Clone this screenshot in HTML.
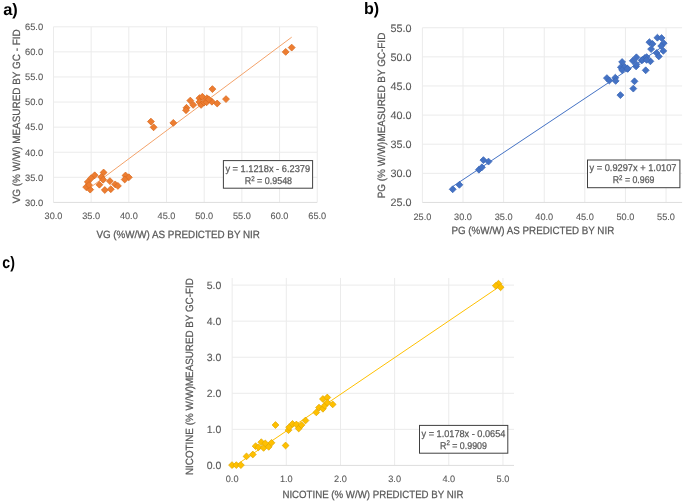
<!DOCTYPE html>
<html><head><meta charset="utf-8"><style>
html,body{margin:0;padding:0;background:#fff;}
svg{display:block;font-family:"Liberation Sans", sans-serif;will-change:transform;text-rendering:geometricPrecision;filter:blur(0.3px);}
</style></head><body>
<svg width="685" height="503" viewBox="0 0 685 503">
<rect width="685" height="503" fill="#fff"/>
<text x="3.2" y="14.6" font-size="16.5" font-weight="bold" fill="#000" textLength="14.6" lengthAdjust="spacingAndGlyphs">a)</text>
<text x="364.0" y="13.7" font-size="16.5" font-weight="bold" fill="#000" textLength="15.2" lengthAdjust="spacingAndGlyphs">b)</text>
<text x="2.3" y="268.3" font-size="16.5" font-weight="bold" fill="#000" textLength="12.6" lengthAdjust="spacingAndGlyphs">c)</text>
<line x1="53.47" y1="26.8" x2="53.47" y2="202.4" stroke="#ebebeb" stroke-width="1"/>
<line x1="91.15" y1="26.8" x2="91.15" y2="202.4" stroke="#ebebeb" stroke-width="1"/>
<line x1="128.83" y1="26.8" x2="128.83" y2="202.4" stroke="#ebebeb" stroke-width="1"/>
<line x1="166.51" y1="26.8" x2="166.51" y2="202.4" stroke="#ebebeb" stroke-width="1"/>
<line x1="204.19" y1="26.8" x2="204.19" y2="202.4" stroke="#ebebeb" stroke-width="1"/>
<line x1="241.87" y1="26.8" x2="241.87" y2="202.4" stroke="#ebebeb" stroke-width="1"/>
<line x1="279.55" y1="26.8" x2="279.55" y2="202.4" stroke="#ebebeb" stroke-width="1"/>
<line x1="317.23" y1="26.8" x2="317.23" y2="202.4" stroke="#ebebeb" stroke-width="1"/>
<line x1="53.47" y1="202.4" x2="317.2" y2="202.4" stroke="#dddddd" stroke-width="1"/>
<line x1="53.47" y1="177.31" x2="317.2" y2="177.31" stroke="#ebebeb" stroke-width="1"/>
<line x1="53.47" y1="152.23" x2="317.2" y2="152.23" stroke="#ebebeb" stroke-width="1"/>
<line x1="53.47" y1="127.14" x2="317.2" y2="127.14" stroke="#ebebeb" stroke-width="1"/>
<line x1="53.47" y1="102.06" x2="317.2" y2="102.06" stroke="#ebebeb" stroke-width="1"/>
<line x1="53.47" y1="76.97" x2="317.2" y2="76.97" stroke="#ebebeb" stroke-width="1"/>
<line x1="53.47" y1="51.88" x2="317.2" y2="51.88" stroke="#ebebeb" stroke-width="1"/>
<line x1="53.47" y1="26.8" x2="317.2" y2="26.8" stroke="#ebebeb" stroke-width="1"/>
<text x="43.2" y="205.7" font-size="9.4" fill="#595959" text-anchor="end" stroke="#595959" stroke-width="0.1">30.0</text>
<text x="43.2" y="180.61" font-size="9.4" fill="#595959" text-anchor="end" stroke="#595959" stroke-width="0.1">35.0</text>
<text x="43.2" y="155.53" font-size="9.4" fill="#595959" text-anchor="end" stroke="#595959" stroke-width="0.1">40.0</text>
<text x="43.2" y="130.44" font-size="9.4" fill="#595959" text-anchor="end" stroke="#595959" stroke-width="0.1">45.0</text>
<text x="43.2" y="105.36" font-size="9.4" fill="#595959" text-anchor="end" stroke="#595959" stroke-width="0.1">50.0</text>
<text x="43.2" y="80.27" font-size="9.4" fill="#595959" text-anchor="end" stroke="#595959" stroke-width="0.1">55.0</text>
<text x="43.2" y="55.18" font-size="9.4" fill="#595959" text-anchor="end" stroke="#595959" stroke-width="0.1">60.0</text>
<text x="43.2" y="30.1" font-size="9.4" fill="#595959" text-anchor="end" stroke="#595959" stroke-width="0.1">65.0</text>
<text x="53.47" y="219.3" font-size="9.2" fill="#595959" text-anchor="middle" stroke="#595959" stroke-width="0.1">30.0</text>
<text x="91.15" y="219.3" font-size="9.2" fill="#595959" text-anchor="middle" stroke="#595959" stroke-width="0.1">35.0</text>
<text x="128.83" y="219.3" font-size="9.2" fill="#595959" text-anchor="middle" stroke="#595959" stroke-width="0.1">40.0</text>
<text x="166.51" y="219.3" font-size="9.2" fill="#595959" text-anchor="middle" stroke="#595959" stroke-width="0.1">45.0</text>
<text x="204.19" y="219.3" font-size="9.2" fill="#595959" text-anchor="middle" stroke="#595959" stroke-width="0.1">50.0</text>
<text x="241.87" y="219.3" font-size="9.2" fill="#595959" text-anchor="middle" stroke="#595959" stroke-width="0.1">55.0</text>
<text x="279.55" y="219.3" font-size="9.2" fill="#595959" text-anchor="middle" stroke="#595959" stroke-width="0.1">60.0</text>
<text x="317.23" y="219.3" font-size="9.2" fill="#595959" text-anchor="middle" stroke="#595959" stroke-width="0.1">65.0</text>
<text x="96.4" y="238.1" font-size="10.5" fill="#595959" text-anchor="start" stroke="#595959" stroke-width="0.25" textLength="163.5" lengthAdjust="spacingAndGlyphs">VG (%W/W) AS PREDICTED BY NIR</text>
<text x="20" y="203.3" font-size="10.5" fill="#595959" text-anchor="start" stroke="#595959" stroke-width="0.25" textLength="174" lengthAdjust="spacingAndGlyphs" transform="rotate(-90 20 203.3)">VG (% W/W) MEASURED BY GC - FID</text>
<line x1="86.2" y1="190.6" x2="291.7" y2="37.2" stroke="#f4a36b" stroke-width="1"/>
<path d="M94.7 171.85L98.15 175.3L94.7 178.75L91.25 175.3Z" fill="#ed7d31" stroke="#d8691f" stroke-width="0.75"/>
<path d="M91.1 174.75L94.55 178.2L91.1 181.65L87.65 178.2Z" fill="#ed7d31" stroke="#d8691f" stroke-width="0.75"/>
<path d="M87.8 178.55L91.25 182L87.8 185.45L84.35 182Z" fill="#ed7d31" stroke="#d8691f" stroke-width="0.75"/>
<path d="M86.2 183.65L89.65 187.1L86.2 190.55L82.75 187.1Z" fill="#ed7d31" stroke="#d8691f" stroke-width="0.75"/>
<path d="M90.2 186.15L93.65 189.6L90.2 193.05L86.75 189.6Z" fill="#ed7d31" stroke="#d8691f" stroke-width="0.75"/>
<path d="M89 181.55L92.45 185L89 188.45L85.55 185Z" fill="#ed7d31" stroke="#d8691f" stroke-width="0.75"/>
<path d="M103.6 169.05L107.05 172.5L103.6 175.95L100.15 172.5Z" fill="#ed7d31" stroke="#d8691f" stroke-width="0.75"/>
<path d="M101.3 173.65L104.75 177.1L101.3 180.55L97.85 177.1Z" fill="#ed7d31" stroke="#d8691f" stroke-width="0.75"/>
<path d="M103.2 176.25L106.65 179.7L103.2 183.15L99.75 179.7Z" fill="#ed7d31" stroke="#d8691f" stroke-width="0.75"/>
<path d="M99.4 181.25L102.85 184.7L99.4 188.15L95.95 184.7Z" fill="#ed7d31" stroke="#d8691f" stroke-width="0.75"/>
<path d="M104.8 186.55L108.25 190L104.8 193.45L101.35 190Z" fill="#ed7d31" stroke="#d8691f" stroke-width="0.75"/>
<path d="M109.9 177.65L113.35 181.1L109.9 184.55L106.45 181.1Z" fill="#ed7d31" stroke="#d8691f" stroke-width="0.75"/>
<path d="M115.2 180.95L118.65 184.4L115.2 187.85L111.75 184.4Z" fill="#ed7d31" stroke="#d8691f" stroke-width="0.75"/>
<path d="M117.9 182.45L121.35 185.9L117.9 189.35L114.45 185.9Z" fill="#ed7d31" stroke="#d8691f" stroke-width="0.75"/>
<path d="M110.8 185.75L114.25 189.2L110.8 192.65L107.35 189.2Z" fill="#ed7d31" stroke="#d8691f" stroke-width="0.75"/>
<path d="M125.5 172.05L128.95 175.5L125.5 178.95L122.05 175.5Z" fill="#ed7d31" stroke="#d8691f" stroke-width="0.75"/>
<path d="M128.8 173.85L132.25 177.3L128.8 180.75L125.35 177.3Z" fill="#ed7d31" stroke="#d8691f" stroke-width="0.75"/>
<path d="M124.7 176.05L128.15 179.5L124.7 182.95L121.25 179.5Z" fill="#ed7d31" stroke="#d8691f" stroke-width="0.75"/>
<path d="M150.9 118.15L154.35 121.6L150.9 125.05L147.45 121.6Z" fill="#ed7d31" stroke="#d8691f" stroke-width="0.75"/>
<path d="M153.6 123.85L157.05 127.3L153.6 130.75L150.15 127.3Z" fill="#ed7d31" stroke="#d8691f" stroke-width="0.75"/>
<path d="M173.3 119.45L176.75 122.9L173.3 126.35L169.85 122.9Z" fill="#ed7d31" stroke="#d8691f" stroke-width="0.75"/>
<path d="M212.4 85.65L215.85 89.1L212.4 92.55L208.95 89.1Z" fill="#ed7d31" stroke="#d8691f" stroke-width="0.75"/>
<path d="M190.3 97.15L193.75 100.6L190.3 104.05L186.85 100.6Z" fill="#ed7d31" stroke="#d8691f" stroke-width="0.75"/>
<path d="M193.2 101.45L196.65 104.9L193.2 108.35L189.75 104.9Z" fill="#ed7d31" stroke="#d8691f" stroke-width="0.75"/>
<path d="M186.5 104.35L189.95 107.8L186.5 111.25L183.05 107.8Z" fill="#ed7d31" stroke="#d8691f" stroke-width="0.75"/>
<path d="M186 106.75L189.45 110.2L186 113.65L182.55 110.2Z" fill="#ed7d31" stroke="#d8691f" stroke-width="0.75"/>
<path d="M199.4 94.75L202.85 98.2L199.4 101.65L195.95 98.2Z" fill="#ed7d31" stroke="#d8691f" stroke-width="0.75"/>
<path d="M202.3 93.35L205.75 96.8L202.3 100.25L198.85 96.8Z" fill="#ed7d31" stroke="#d8691f" stroke-width="0.75"/>
<path d="M207 94.75L210.45 98.2L207 101.65L203.55 98.2Z" fill="#ed7d31" stroke="#d8691f" stroke-width="0.75"/>
<path d="M199.4 98.55L202.85 102L199.4 105.45L195.95 102Z" fill="#ed7d31" stroke="#d8691f" stroke-width="0.75"/>
<path d="M201.1 101.45L204.55 104.9L201.1 108.35L197.65 104.9Z" fill="#ed7d31" stroke="#d8691f" stroke-width="0.75"/>
<path d="M204 99.15L207.45 102.6L204 106.05L200.55 102.6Z" fill="#ed7d31" stroke="#d8691f" stroke-width="0.75"/>
<path d="M206.6 98.85L210.05 102.3L206.6 105.75L203.15 102.3Z" fill="#ed7d31" stroke="#d8691f" stroke-width="0.75"/>
<path d="M211.9 98.25L215.35 101.7L211.9 105.15L208.45 101.7Z" fill="#ed7d31" stroke="#d8691f" stroke-width="0.75"/>
<path d="M217.2 100.05L220.65 103.5L217.2 106.95L213.75 103.5Z" fill="#ed7d31" stroke="#d8691f" stroke-width="0.75"/>
<path d="M208.7 95.95L212.15 99.4L208.7 102.85L205.25 99.4Z" fill="#ed7d31" stroke="#d8691f" stroke-width="0.75"/>
<path d="M226 95.65L229.45 99.1L226 102.55L222.55 99.1Z" fill="#ed7d31" stroke="#d8691f" stroke-width="0.75"/>
<path d="M285.7 48.45L289.15 51.9L285.7 55.35L282.25 51.9Z" fill="#ed7d31" stroke="#d8691f" stroke-width="0.75"/>
<path d="M291.7 44.15L295.15 47.6L291.7 51.05L288.25 47.6Z" fill="#ed7d31" stroke="#d8691f" stroke-width="0.75"/>
<rect x="223.4" y="160.6" width="89.2" height="27.6" fill="#fff" stroke="#404040" stroke-width="1"/>
<text x="225.4" y="171.7" font-size="9.8" fill="#595959" text-anchor="start" stroke="#595959" stroke-width="0.25" textLength="84.7" lengthAdjust="spacingAndGlyphs">y = 1.1218x - 6.2379</text>
<text x="244.7" y="184" font-size="9.8" fill="#595959" text-anchor="start" stroke="#595959" stroke-width="0.25" textLength="47.4" lengthAdjust="spacingAndGlyphs">R<tspan dy="-3.4" font-size="6.8">2</tspan><tspan dy="3.4"> = 0.9548</tspan></text>
<line x1="422.4" y1="27.74" x2="422.4" y2="202.44" stroke="#ebebeb" stroke-width="1"/>
<line x1="463.01" y1="27.74" x2="463.01" y2="202.44" stroke="#ebebeb" stroke-width="1"/>
<line x1="503.61" y1="27.74" x2="503.61" y2="202.44" stroke="#ebebeb" stroke-width="1"/>
<line x1="544.22" y1="27.74" x2="544.22" y2="202.44" stroke="#ebebeb" stroke-width="1"/>
<line x1="584.83" y1="27.74" x2="584.83" y2="202.44" stroke="#ebebeb" stroke-width="1"/>
<line x1="625.43" y1="27.74" x2="625.43" y2="202.44" stroke="#ebebeb" stroke-width="1"/>
<line x1="666.04" y1="27.74" x2="666.04" y2="202.44" stroke="#ebebeb" stroke-width="1"/>
<line x1="422.4" y1="202.44" x2="682.1" y2="202.44" stroke="#dddddd" stroke-width="1"/>
<line x1="422.4" y1="173.32" x2="682.1" y2="173.32" stroke="#ebebeb" stroke-width="1"/>
<line x1="422.4" y1="144.21" x2="682.1" y2="144.21" stroke="#ebebeb" stroke-width="1"/>
<line x1="422.4" y1="115.09" x2="682.1" y2="115.09" stroke="#ebebeb" stroke-width="1"/>
<line x1="422.4" y1="85.97" x2="682.1" y2="85.97" stroke="#ebebeb" stroke-width="1"/>
<line x1="422.4" y1="56.85" x2="682.1" y2="56.85" stroke="#ebebeb" stroke-width="1"/>
<line x1="422.4" y1="27.74" x2="682.1" y2="27.74" stroke="#ebebeb" stroke-width="1"/>
<text x="411.6" y="206.24" font-size="10.8" fill="#595959" text-anchor="end" stroke="#595959" stroke-width="0.1">25.0</text>
<text x="411.6" y="177.12" font-size="10.8" fill="#595959" text-anchor="end" stroke="#595959" stroke-width="0.1">30.0</text>
<text x="411.6" y="148.01" font-size="10.8" fill="#595959" text-anchor="end" stroke="#595959" stroke-width="0.1">35.0</text>
<text x="411.6" y="118.89" font-size="10.8" fill="#595959" text-anchor="end" stroke="#595959" stroke-width="0.1">40.0</text>
<text x="411.6" y="89.77" font-size="10.8" fill="#595959" text-anchor="end" stroke="#595959" stroke-width="0.1">45.0</text>
<text x="411.6" y="60.65" font-size="10.8" fill="#595959" text-anchor="end" stroke="#595959" stroke-width="0.1">50.0</text>
<text x="411.6" y="31.54" font-size="10.8" fill="#595959" text-anchor="end" stroke="#595959" stroke-width="0.1">55.0</text>
<text x="422.4" y="219.6" font-size="9.2" fill="#595959" text-anchor="middle" stroke="#595959" stroke-width="0.1">25.0</text>
<text x="463.01" y="219.6" font-size="9.2" fill="#595959" text-anchor="middle" stroke="#595959" stroke-width="0.1">30.0</text>
<text x="503.61" y="219.6" font-size="9.2" fill="#595959" text-anchor="middle" stroke="#595959" stroke-width="0.1">35.0</text>
<text x="544.22" y="219.6" font-size="9.2" fill="#595959" text-anchor="middle" stroke="#595959" stroke-width="0.1">40.0</text>
<text x="584.83" y="219.6" font-size="9.2" fill="#595959" text-anchor="middle" stroke="#595959" stroke-width="0.1">45.0</text>
<text x="625.43" y="219.6" font-size="9.2" fill="#595959" text-anchor="middle" stroke="#595959" stroke-width="0.1">50.0</text>
<text x="666.04" y="219.6" font-size="9.2" fill="#595959" text-anchor="middle" stroke="#595959" stroke-width="0.1">55.0</text>
<text x="451.4" y="233.8" font-size="10.5" fill="#595959" text-anchor="start" stroke="#595959" stroke-width="0.25" textLength="162.8" lengthAdjust="spacingAndGlyphs">PG (%W/W) AS PREDICTED BY NIR</text>
<text x="385" y="198.3" font-size="10.5" fill="#595959" text-anchor="start" stroke="#595959" stroke-width="0.25" textLength="165.6" lengthAdjust="spacingAndGlyphs" transform="rotate(-90 385 198.3)">PG (% W/W)MEASURED BY GC-FID</text>
<line x1="452.7" y1="186.5" x2="663.4" y2="46.1" stroke="#4472c4" stroke-width="1"/>
<path d="M452.7 185.85L456.15 189.3L452.7 192.75L449.25 189.3Z" fill="#4472c4" stroke="#3a65b5" stroke-width="0.75"/>
<path d="M459.4 181.35L462.85 184.8L459.4 188.25L455.95 184.8Z" fill="#4472c4" stroke="#3a65b5" stroke-width="0.75"/>
<path d="M478.9 166.25L482.35 169.7L478.9 173.15L475.45 169.7Z" fill="#4472c4" stroke="#3a65b5" stroke-width="0.75"/>
<path d="M481.9 163.85L485.35 167.3L481.9 170.75L478.45 167.3Z" fill="#4472c4" stroke="#3a65b5" stroke-width="0.75"/>
<path d="M483.4 156.65L486.85 160.1L483.4 163.55L479.95 160.1Z" fill="#4472c4" stroke="#3a65b5" stroke-width="0.75"/>
<path d="M488.5 158.15L491.95 161.6L488.5 165.05L485.05 161.6Z" fill="#4472c4" stroke="#3a65b5" stroke-width="0.75"/>
<path d="M606.9 74.65L610.35 78.1L606.9 81.55L603.45 78.1Z" fill="#4472c4" stroke="#3a65b5" stroke-width="0.75"/>
<path d="M609.3 77.05L612.75 80.5L609.3 83.95L605.85 80.5Z" fill="#4472c4" stroke="#3a65b5" stroke-width="0.75"/>
<path d="M615.3 74.25L618.75 77.7L615.3 81.15L611.85 77.7Z" fill="#4472c4" stroke="#3a65b5" stroke-width="0.75"/>
<path d="M615.7 77.45L619.15 80.9L615.7 84.35L612.25 80.9Z" fill="#4472c4" stroke="#3a65b5" stroke-width="0.75"/>
<path d="M620.4 91.65L623.85 95.1L620.4 98.55L616.95 95.1Z" fill="#4472c4" stroke="#3a65b5" stroke-width="0.75"/>
<path d="M634.5 77.85L637.95 81.3L634.5 84.75L631.05 81.3Z" fill="#4472c4" stroke="#3a65b5" stroke-width="0.75"/>
<path d="M633.3 85.15L636.75 88.6L633.3 92.05L629.85 88.6Z" fill="#4472c4" stroke="#3a65b5" stroke-width="0.75"/>
<path d="M622.1 58.55L625.55 62L622.1 65.45L618.65 62Z" fill="#4472c4" stroke="#3a65b5" stroke-width="0.75"/>
<path d="M620.9 63.75L624.35 67.2L620.9 70.65L617.45 67.2Z" fill="#4472c4" stroke="#3a65b5" stroke-width="0.75"/>
<path d="M624.5 63.35L627.95 66.8L624.5 70.25L621.05 66.8Z" fill="#4472c4" stroke="#3a65b5" stroke-width="0.75"/>
<path d="M627.7 65.35L631.15 68.8L627.7 72.25L624.25 68.8Z" fill="#4472c4" stroke="#3a65b5" stroke-width="0.75"/>
<path d="M622.1 66.55L625.55 70L622.1 73.45L618.65 70Z" fill="#4472c4" stroke="#3a65b5" stroke-width="0.75"/>
<path d="M627.4 65.25L630.85 68.7L627.4 72.15L623.95 68.7Z" fill="#4472c4" stroke="#3a65b5" stroke-width="0.75"/>
<path d="M636.1 62.95L639.55 66.4L636.1 69.85L632.65 66.4Z" fill="#4472c4" stroke="#3a65b5" stroke-width="0.75"/>
<path d="M636.4 53.85L639.85 57.3L636.4 60.75L632.95 57.3Z" fill="#4472c4" stroke="#3a65b5" stroke-width="0.75"/>
<path d="M632.8 57.35L636.25 60.8L632.8 64.25L629.35 60.8Z" fill="#4472c4" stroke="#3a65b5" stroke-width="0.75"/>
<path d="M636.4 60.95L639.85 64.4L636.4 67.85L632.95 64.4Z" fill="#4472c4" stroke="#3a65b5" stroke-width="0.75"/>
<path d="M641.6 56.95L645.05 60.4L641.6 63.85L638.15 60.4Z" fill="#4472c4" stroke="#3a65b5" stroke-width="0.75"/>
<path d="M644.8 54.55L648.25 58L644.8 61.45L641.35 58Z" fill="#4472c4" stroke="#3a65b5" stroke-width="0.75"/>
<path d="M645.7 66.85L649.15 70.3L645.7 73.75L642.25 70.3Z" fill="#4472c4" stroke="#3a65b5" stroke-width="0.75"/>
<path d="M657.4 34.25L660.85 37.7L657.4 41.15L653.95 37.7Z" fill="#4472c4" stroke="#3a65b5" stroke-width="0.75"/>
<path d="M661.6 34.55L665.05 38L661.6 41.45L658.15 38Z" fill="#4472c4" stroke="#3a65b5" stroke-width="0.75"/>
<path d="M649.4 38.75L652.85 42.2L649.4 45.65L645.95 42.2Z" fill="#4472c4" stroke="#3a65b5" stroke-width="0.75"/>
<path d="M652.5 40.45L655.95 43.9L652.5 47.35L649.05 43.9Z" fill="#4472c4" stroke="#3a65b5" stroke-width="0.75"/>
<path d="M663.7 39.75L667.15 43.2L663.7 46.65L660.25 43.2Z" fill="#4472c4" stroke="#3a65b5" stroke-width="0.75"/>
<path d="M661.2 42.55L664.65 46L661.2 49.45L657.75 46Z" fill="#4472c4" stroke="#3a65b5" stroke-width="0.75"/>
<path d="M651.1 45.65L654.55 49.1L651.1 52.55L647.65 49.1Z" fill="#4472c4" stroke="#3a65b5" stroke-width="0.75"/>
<path d="M663.3 47.45L666.75 50.9L663.3 54.35L659.85 50.9Z" fill="#4472c4" stroke="#3a65b5" stroke-width="0.75"/>
<path d="M656.7 49.55L660.15 53L656.7 56.45L653.25 53Z" fill="#4472c4" stroke="#3a65b5" stroke-width="0.75"/>
<path d="M658.8 52.95L662.25 56.4L658.8 59.85L655.35 56.4Z" fill="#4472c4" stroke="#3a65b5" stroke-width="0.75"/>
<path d="M646.6 53.65L650.05 57.1L646.6 60.55L643.15 57.1Z" fill="#4472c4" stroke="#3a65b5" stroke-width="0.75"/>
<path d="M642.4 56.45L645.85 59.9L642.4 63.35L638.95 59.9Z" fill="#4472c4" stroke="#3a65b5" stroke-width="0.75"/>
<path d="M650.4 57.85L653.85 61.3L650.4 64.75L646.95 61.3Z" fill="#4472c4" stroke="#3a65b5" stroke-width="0.75"/>
<path d="M646.6 56.45L650.05 59.9L646.6 63.35L643.15 59.9Z" fill="#4472c4" stroke="#3a65b5" stroke-width="0.75"/>
<rect x="587.5" y="160" width="92.4" height="27.7" fill="#fff" stroke="#404040" stroke-width="1"/>
<text x="589.5" y="170.9" font-size="9.8" fill="#595959" text-anchor="start" stroke="#595959" stroke-width="0.25" textLength="87" lengthAdjust="spacingAndGlyphs">y = 0.9297x + 1.0107</text>
<text x="612.7" y="183.2" font-size="9.8" fill="#595959" text-anchor="start" stroke="#595959" stroke-width="0.25" textLength="41.8" lengthAdjust="spacingAndGlyphs">R<tspan dy="-3.4" font-size="6.8">2</tspan><tspan dy="3.4"> = 0.969</tspan></text>
<line x1="232.14" y1="277.95" x2="232.14" y2="465.41" stroke="#ebebeb" stroke-width="1"/>
<line x1="286.3" y1="277.95" x2="286.3" y2="465.41" stroke="#ebebeb" stroke-width="1"/>
<line x1="340.46" y1="277.95" x2="340.46" y2="465.41" stroke="#ebebeb" stroke-width="1"/>
<line x1="394.63" y1="277.95" x2="394.63" y2="465.41" stroke="#ebebeb" stroke-width="1"/>
<line x1="448.79" y1="277.95" x2="448.79" y2="465.41" stroke="#ebebeb" stroke-width="1"/>
<line x1="502.95" y1="277.95" x2="502.95" y2="465.41" stroke="#ebebeb" stroke-width="1"/>
<line x1="232.14" y1="465.41" x2="514" y2="465.41" stroke="#dddddd" stroke-width="1"/>
<line x1="232.14" y1="429.35" x2="514" y2="429.35" stroke="#ebebeb" stroke-width="1"/>
<line x1="232.14" y1="393.29" x2="514" y2="393.29" stroke="#ebebeb" stroke-width="1"/>
<line x1="232.14" y1="357.22" x2="514" y2="357.22" stroke="#ebebeb" stroke-width="1"/>
<line x1="232.14" y1="321.16" x2="514" y2="321.16" stroke="#ebebeb" stroke-width="1"/>
<line x1="232.14" y1="285.1" x2="514" y2="285.1" stroke="#ebebeb" stroke-width="1"/>
<text x="221.3" y="468.91" font-size="10.5" fill="#595959" text-anchor="end" stroke="#595959" stroke-width="0.1">0.0</text>
<text x="221.3" y="432.85" font-size="10.5" fill="#595959" text-anchor="end" stroke="#595959" stroke-width="0.1">1.0</text>
<text x="221.3" y="396.79" font-size="10.5" fill="#595959" text-anchor="end" stroke="#595959" stroke-width="0.1">2.0</text>
<text x="221.3" y="360.72" font-size="10.5" fill="#595959" text-anchor="end" stroke="#595959" stroke-width="0.1">3.0</text>
<text x="221.3" y="324.66" font-size="10.5" fill="#595959" text-anchor="end" stroke="#595959" stroke-width="0.1">4.0</text>
<text x="221.3" y="288.6" font-size="10.5" fill="#595959" text-anchor="end" stroke="#595959" stroke-width="0.1">5.0</text>
<text x="232.14" y="482" font-size="9.2" fill="#595959" text-anchor="middle" stroke="#595959" stroke-width="0.1">0.0</text>
<text x="286.3" y="482" font-size="9.2" fill="#595959" text-anchor="middle" stroke="#595959" stroke-width="0.1">1.0</text>
<text x="340.46" y="482" font-size="9.2" fill="#595959" text-anchor="middle" stroke="#595959" stroke-width="0.1">2.0</text>
<text x="394.63" y="482" font-size="9.2" fill="#595959" text-anchor="middle" stroke="#595959" stroke-width="0.1">3.0</text>
<text x="448.79" y="482" font-size="9.2" fill="#595959" text-anchor="middle" stroke="#595959" stroke-width="0.1">4.0</text>
<text x="502.95" y="482" font-size="9.2" fill="#595959" text-anchor="middle" stroke="#595959" stroke-width="0.1">5.0</text>
<text x="282.4" y="498" font-size="10.5" fill="#595959" text-anchor="start" stroke="#595959" stroke-width="0.25" textLength="181" lengthAdjust="spacingAndGlyphs">NICOTINE (% W/W) PREDICTED BY NIR</text>
<text x="192.9" y="475" font-size="10.5" fill="#595959" text-anchor="start" stroke="#595959" stroke-width="0.25" textLength="196.8" lengthAdjust="spacingAndGlyphs" transform="rotate(-90 192.9 475)">NICOTINE (% W/W)MEASURED BY GC-FID</text>
<line x1="232" y1="467.86" x2="498.5" y2="287.23" stroke="#ffc000" stroke-width="1"/>
<path d="M232 461.7L235.4 465.1L232 468.5L228.6 465.1Z" fill="#ffc000" stroke="#e0a800" stroke-width="0.75"/>
<path d="M236.3 461.7L239.7 465.1L236.3 468.5L232.9 465.1Z" fill="#ffc000" stroke="#e0a800" stroke-width="0.75"/>
<path d="M240.9 461.7L244.3 465.1L240.9 468.5L237.5 465.1Z" fill="#ffc000" stroke="#e0a800" stroke-width="0.75"/>
<path d="M246.5 453L249.9 456.4L246.5 459.8L243.1 456.4Z" fill="#ffc000" stroke="#e0a800" stroke-width="0.75"/>
<path d="M252.8 451.1L256.2 454.5L252.8 457.9L249.4 454.5Z" fill="#ffc000" stroke="#e0a800" stroke-width="0.75"/>
<path d="M255.6 442.8L259 446.2L255.6 449.6L252.2 446.2Z" fill="#ffc000" stroke="#e0a800" stroke-width="0.75"/>
<path d="M258.5 443.9L261.9 447.3L258.5 450.7L255.1 447.3Z" fill="#ffc000" stroke="#e0a800" stroke-width="0.75"/>
<path d="M261.3 438.8L264.7 442.2L261.3 445.6L257.9 442.2Z" fill="#ffc000" stroke="#e0a800" stroke-width="0.75"/>
<path d="M263.6 444.5L267 447.9L263.6 451.3L260.2 447.9Z" fill="#ffc000" stroke="#e0a800" stroke-width="0.75"/>
<path d="M265.3 440L268.7 443.4L265.3 446.8L261.9 443.4Z" fill="#ffc000" stroke="#e0a800" stroke-width="0.75"/>
<path d="M268.7 443.4L272.1 446.8L268.7 450.2L265.3 446.8Z" fill="#ffc000" stroke="#e0a800" stroke-width="0.75"/>
<path d="M271.5 439.4L274.9 442.8L271.5 446.2L268.1 442.8Z" fill="#ffc000" stroke="#e0a800" stroke-width="0.75"/>
<path d="M275.5 421.6L278.9 425L275.5 428.4L272.1 425Z" fill="#ffc000" stroke="#e0a800" stroke-width="0.75"/>
<path d="M285.6 442.1L289 445.5L285.6 448.9L282.2 445.5Z" fill="#ffc000" stroke="#e0a800" stroke-width="0.75"/>
<path d="M288.5 426.8L291.9 430.2L288.5 433.6L285.1 430.2Z" fill="#ffc000" stroke="#e0a800" stroke-width="0.75"/>
<path d="M289.1 423.9L292.5 427.3L289.1 430.7L285.7 427.3Z" fill="#ffc000" stroke="#e0a800" stroke-width="0.75"/>
<path d="M292.5 420.5L295.9 423.9L292.5 427.3L289.1 423.9Z" fill="#ffc000" stroke="#e0a800" stroke-width="0.75"/>
<path d="M296.4 421.1L299.8 424.5L296.4 427.9L293 424.5Z" fill="#ffc000" stroke="#e0a800" stroke-width="0.75"/>
<path d="M298.7 425.1L302.1 428.5L298.7 431.9L295.3 428.5Z" fill="#ffc000" stroke="#e0a800" stroke-width="0.75"/>
<path d="M301.5 421.7L304.9 425.1L301.5 428.5L298.1 425.1Z" fill="#ffc000" stroke="#e0a800" stroke-width="0.75"/>
<path d="M305.5 417.1L308.9 420.5L305.5 423.9L302.1 420.5Z" fill="#ffc000" stroke="#e0a800" stroke-width="0.75"/>
<path d="M316.3 409L319.7 412.4L316.3 415.8L312.9 412.4Z" fill="#ffc000" stroke="#e0a800" stroke-width="0.75"/>
<path d="M319 404.2L322.4 407.6L319 411L315.6 407.6Z" fill="#ffc000" stroke="#e0a800" stroke-width="0.75"/>
<path d="M322.9 405.4L326.3 408.8L322.9 412.2L319.5 408.8Z" fill="#ffc000" stroke="#e0a800" stroke-width="0.75"/>
<path d="M324.7 402.2L328.1 405.6L324.7 409L321.3 405.6Z" fill="#ffc000" stroke="#e0a800" stroke-width="0.75"/>
<path d="M322.9 395.6L326.3 399L322.9 402.4L319.5 399Z" fill="#ffc000" stroke="#e0a800" stroke-width="0.75"/>
<path d="M327.3 394.1L330.7 397.5L327.3 400.9L323.9 397.5Z" fill="#ffc000" stroke="#e0a800" stroke-width="0.75"/>
<path d="M327.3 399.2L330.7 402.6L327.3 406L323.9 402.6Z" fill="#ffc000" stroke="#e0a800" stroke-width="0.75"/>
<path d="M332.7 401L336.1 404.4L332.7 407.8L329.3 404.4Z" fill="#ffc000" stroke="#e0a800" stroke-width="0.75"/>
<path d="M498.5 280.3L501.9 283.7L498.5 287.1L495.1 283.7Z" fill="#ffc000" stroke="#e0a800" stroke-width="0.75"/>
<path d="M495.8 282.4L499.2 285.8L495.8 289.2L492.4 285.8Z" fill="#ffc000" stroke="#e0a800" stroke-width="0.75"/>
<path d="M500.6 283.9L504 287.3L500.6 290.7L497.2 287.3Z" fill="#ffc000" stroke="#e0a800" stroke-width="0.75"/>
<rect x="419.5" y="425.4" width="88.3" height="27.8" fill="#fff" stroke="#404040" stroke-width="1"/>
<text x="421.5" y="436.7" font-size="9.8" fill="#595959" text-anchor="start" stroke="#595959" stroke-width="0.25" textLength="83.9" lengthAdjust="spacingAndGlyphs">y = 1.0178x - 0.0654</text>
<text x="440" y="448.7" font-size="9.8" fill="#595959" text-anchor="start" stroke="#595959" stroke-width="0.25" textLength="46.9" lengthAdjust="spacingAndGlyphs">R<tspan dy="-3.4" font-size="6.8">2</tspan><tspan dy="3.4"> = 0.9909</tspan></text>
</svg>
</body></html>
